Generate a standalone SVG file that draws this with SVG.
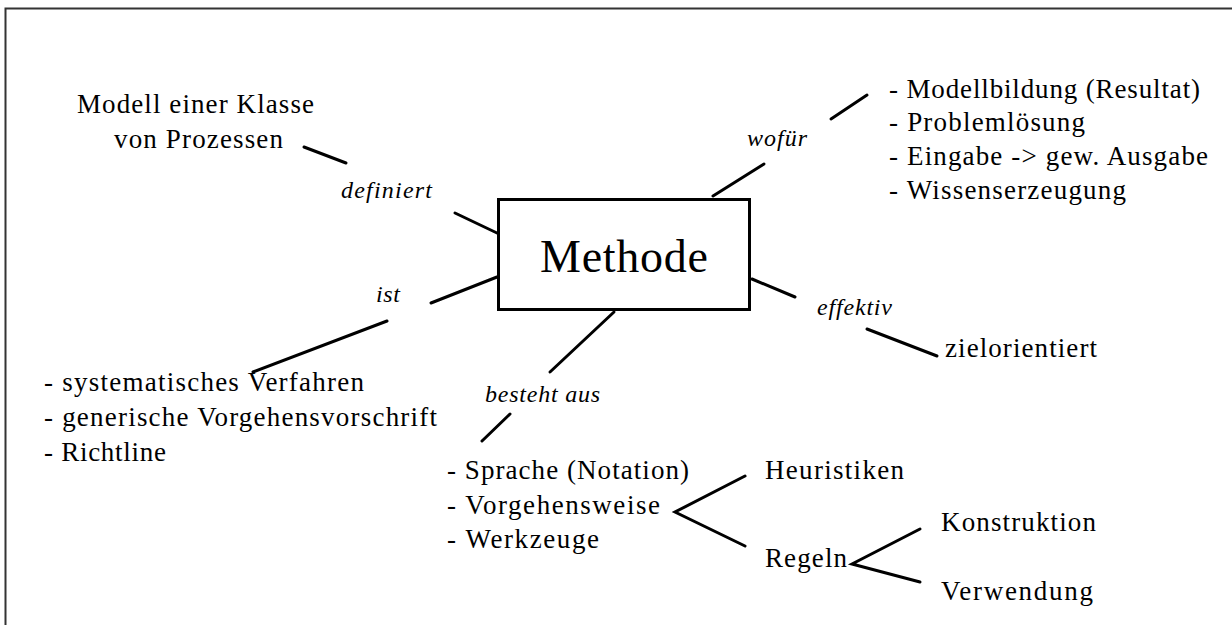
<svg xmlns="http://www.w3.org/2000/svg" width="1232" height="625" viewBox="0 0 1232 625">
<style>
text { font-family: "Liberation Serif", "Times New Roman", serif; font-size: 27px; fill: #000; }
.it { font-style: italic; font-size: 24px; }
.big { font-size: 46px; }
.ln { stroke: #000; stroke-width: 3; stroke-linecap: round; fill: none; }
</style>
<rect x="0" y="0" width="1232" height="625" fill="#fff"/>
<path d="M5.5 625 V8.5 H1232" stroke="#333" stroke-width="2" fill="none"/>
<g id="connectors">
<line class="ln" x1="304" y1="147" x2="346" y2="163"/>
<line class="ln" x1="455" y1="213" x2="497" y2="233"/>
<line class="ln" x1="831" y1="119" x2="867" y2="95"/>
<line class="ln" x1="713" y1="196" x2="764" y2="164"/>
<line class="ln" x1="752" y1="279" x2="795" y2="297"/>
<line class="ln" x1="867" y1="329" x2="937" y2="356"/>
<line class="ln" x1="431" y1="303" x2="497" y2="277"/>
<line class="ln" x1="253" y1="372" x2="387" y2="321"/>
<line class="ln" x1="614" y1="312" x2="550" y2="372"/>
<line class="ln" x1="510" y1="414" x2="482" y2="441"/>
<polyline class="ln" points="745,476 675,512 745,546"/>
<polyline class="ln" points="920,529 852,564 920,582"/>
</g>
<g id="methode">
<rect x="498.5" y="199.5" width="251" height="110" fill="#fff" stroke="#000" stroke-width="3"/>
<text class="big" x="540" y="272" textLength="168" lengthAdjust="spacing">Methode</text>
</g>
<g id="modell">
<text x="77" y="113" textLength="237" lengthAdjust="spacing">Modell einer Klasse</text>
<text x="114" y="148" textLength="169" lengthAdjust="spacing">von Prozessen</text>
</g>
<g id="label-definiert"><text class="it" x="341" y="198" textLength="91" lengthAdjust="spacing">definiert</text></g>
<g id="label-wofuer"><text class="it" x="747" y="146" textLength="60" lengthAdjust="spacing">wofür</text></g>
<g id="zwecke">
<text x="889" y="98" textLength="311" lengthAdjust="spacing">- Modellbildung (Resultat)</text>
<text x="889" y="131" textLength="196" lengthAdjust="spacing">- Problemlösung</text>
<text x="889" y="165" textLength="319" lengthAdjust="spacing">- Eingabe -&gt; gew. Ausgabe</text>
<text x="889" y="199" textLength="237" lengthAdjust="spacing">- Wissenserzeugung</text>
</g>
<g id="label-ist"><text class="it" x="376" y="302" textLength="24" lengthAdjust="spacing">ist</text></g>
<g id="label-effektiv"><text class="it" x="817" y="315" textLength="75" lengthAdjust="spacing">effektiv</text></g>
<g id="zielorientiert"><text x="945" y="357" textLength="152" lengthAdjust="spacing">zielorientiert</text></g>
<g id="ist-liste">
<text x="44" y="391" textLength="320" lengthAdjust="spacing">- systematisches Verfahren</text>
<text x="44" y="426" textLength="393" lengthAdjust="spacing">- generische Vorgehensvorschrift</text>
<text x="44" y="461" textLength="122" lengthAdjust="spacing">- Richtline</text>
</g>
<g id="label-besteht"><text class="it" x="485" y="402" textLength="115" lengthAdjust="spacing">besteht aus</text></g>
<g id="bestandteile">
<text x="447" y="479" textLength="242" lengthAdjust="spacing">- Sprache (Notation)</text>
<text x="447" y="514" textLength="213" lengthAdjust="spacing">- Vorgehensweise</text>
<text x="447" y="548" textLength="152" lengthAdjust="spacing">- Werkzeuge</text>
</g>
<g id="heuristiken"><text x="765" y="479" textLength="139" lengthAdjust="spacing">Heuristiken</text></g>
<g id="regeln"><text x="765" y="567" textLength="82" lengthAdjust="spacing">Regeln</text></g>
<g id="konstruktion"><text x="941" y="531" textLength="155" lengthAdjust="spacing">Konstruktion</text></g>
<g id="verwendung"><text x="941" y="600" textLength="152" lengthAdjust="spacing">Verwendung</text></g>
</svg>
